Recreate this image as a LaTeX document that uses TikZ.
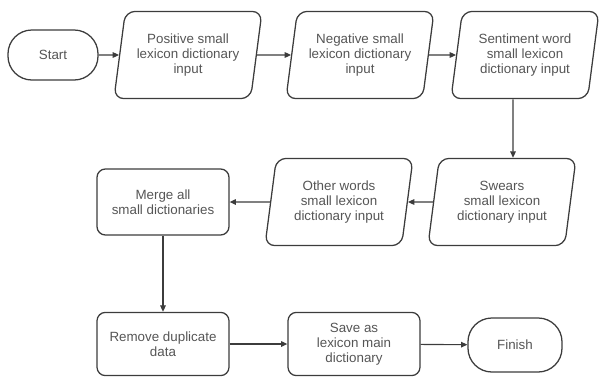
\documentclass[tikz,border=0pt]{standalone}
\usepackage{fontspec}
\setmainfont{Liberation Sans}
\usetikzlibrary{arrows.meta, shapes.geometric}
\definecolor{outline}{RGB}{60,60,60}
\definecolor{labelgrey}{RGB}{85,85,85}

\begin{document}
\begin{tikzpicture}[
      x=0.025cm, y=-0.025cm,
      base/.style={draw=outline, line width=0.9pt, text=labelgrey,
                   align=center, inner sep=1pt,
                   font=\fontsize{9.5}{10.8}\selectfont},
      term/.style={base, rounded corners=17pt, minimum width=2.3cm,
                   minimum height=1.3cm},
      iobox/.style={base, trapezium, trapezium left angle=76,
                    trapezium right angle=104, trapezium stretches body,
                    rounded corners=7pt, minimum width=3.7cm,
                    minimum height=2.18cm},
      procbox/.style={base, rounded corners=6pt, minimum width=3.3cm,
                      minimum height=1.58cm},
      ar/.style={-{Triangle[length=4.5pt, width=4pt]}, draw=outline,
                 line width=0.8pt}
    ]
    \useasboundingbox (0,0) rectangle (600,376);
    \node[term, minimum width=2.25cm, minimum height=1.25cm] (start) at (53,55) {Start};
    \node[iobox] (pos) at (188,55) {Positive small\\lexicon dictionary\\input};
    \node[iobox] (neg) at (360,55) {Negative small\\lexicon dictionary\\input};
    \node[iobox] (sent) at (525,55) {Sentiment word\\small lexicon\\dictionary input};
    \node[iobox] (swear) at (502,202) {Swears\\small lexicon\\dictionary input};
    \node[iobox] (other) at (339,202) {Other words\\small lexicon\\dictionary input};
    \node[procbox, minimum height=1.65cm] (merge) at (163,202) {Merge all\\small dictionaries};
    \node[procbox] (remove) at (163,344) {Remove duplicate\\data};
    \node[procbox] (save) at (354,344) {Save as\\lexicon main\\dictionary};
    \node[term, minimum width=2.35cm, minimum height=1.35cm] (finish) at (515,345) {Finish};
    \draw[ar] (start) -- (pos); \draw[ar] (pos) -- (neg); \draw[ar] (neg) -- (sent);
    \draw[ar] ([xshift=-0.3cm]sent.south) -- ([xshift=0.275cm]swear.north);
    \draw[ar] (swear) -- (other); \draw[ar] (other) -- (merge);
    \draw[ar] (merge) -- (remove); \draw[ar] (remove) -- (save);
    \draw[ar] (save) -- (finish);
  \end{tikzpicture}
\end{document}
